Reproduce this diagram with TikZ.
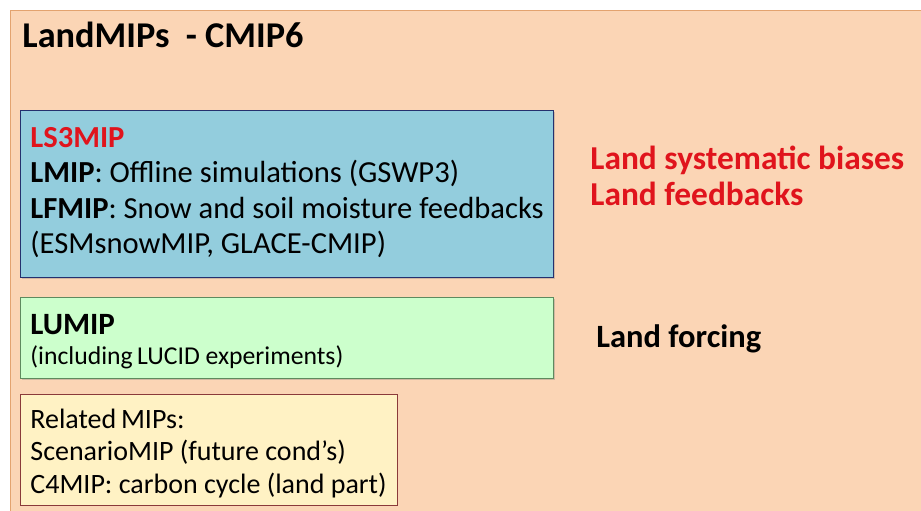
\documentclass[tikz,border=0pt]{standalone}
\usepackage{fontspec}
\setmainfont{Carlito}
\usetikzlibrary{shadows}
\definecolor{peach}{HTML}{FBD5B5}
\definecolor{peachline}{HTML}{E3A36F}
\definecolor{skyfill}{HTML}{93CDDD}
\definecolor{skyline}{HTML}{24306E}
\definecolor{mintfill}{HTML}{CCFFCC}
\definecolor{mintline}{HTML}{5E8A5E}
\definecolor{creamfill}{HTML}{FFF2C4}
\definecolor{creamline}{HTML}{8A3A3A}
\definecolor{alertred}{HTML}{E0141C}
\tikzset{
  font={\fontsize{30.6pt}{35.5pt}\selectfont}}

\begin{document}
\begin{tikzpicture}[x=1pt, y=-1pt, line width=0.8pt,
    every node/.style={anchor=north west, align=flush left, inner ysep=0pt}]
  \useasboundingbox (0,0) rectangle (921,511);
  \node (bg) [draw=peachline, fill=peach, shape=rectangle, minimum width=930pt, minimum height=520pt, inner sep=0pt] at (10,10) {};
  \node (title) [anchor=base west, inner sep=0pt, font={\fontsize{36.3pt}{40pt}\selectfont\bfseries}] at (22,48) {LandMIPs\ \ - CMIP6};

  \node (ls3) [draw=skyline, fill=skyfill, shape=rectangle, drop shadow={opacity=0.35, shadow xshift=2pt, shadow yshift=-2pt}, text width=513pt, inner xsep=10pt, text height=37pt, text depth=130pt] at (20,110)
    {\textcolor{alertred}{\textbf{LS3MIP}}\\
     \textbf{LMIP}: Offline simulations (GSWP3)\\
     \mbox{\textbf{LFMIP}: Snow and soil moisture feedbacks}\\
     (ESMsnowMIP, GLACE-CMIP)};
  \node (lu) [draw=mintline, fill=mintfill, shape=rectangle, drop shadow={opacity=0.35, shadow xshift=2pt, shadow yshift=-2pt}, text width=513pt, inner xsep=10pt, text height=37pt, text depth=44pt, font={\fontsize{25.7pt}{30pt}\selectfont}] at (20,297)
    {{\fontsize{31pt}{30pt}\selectfont\textbf{LUMIP}}\\
     (including\,LUCID experiments)};
  \node (rel) [draw=creamline, fill=creamfill, shape=rectangle, text width=357pt, inner xsep=10pt, text height=34pt, text depth=77pt, font={\fontsize{28pt}{32.5pt}\selectfont}] at (20,394)
    {Related\,MIPs:\\
     ScenarioMIP (future cond’s)\\
     C4MIP: carbon cycle (land part)};

  \node (bias) [anchor=base west, inner sep=0pt, text=alertred, font={\fontsize{33.4pt}{37pt}\selectfont\bfseries}] at (590,169) {Land systematic biases};
  \node (fb) [anchor=base west, inner sep=0pt, text=alertred, font={\fontsize{33.4pt}{37pt}\selectfont\bfseries}] at (590,205) {Land feedbacks};
  \node (forc) [anchor=base west, inner sep=0pt, font={\fontsize{32.5pt}{37pt}\selectfont\bfseries}] at (596,347) {Land forcing};
\end{tikzpicture}
\end{document}
